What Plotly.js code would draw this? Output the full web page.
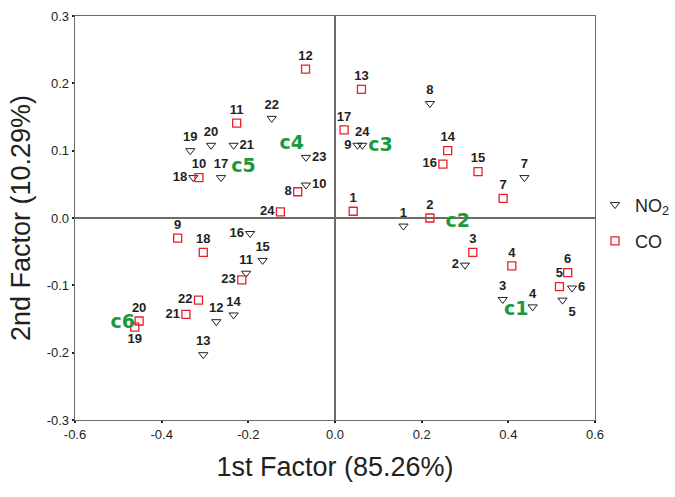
<!DOCTYPE html>
<html><head><meta charset="utf-8">
<script src="https://cdn.plot.ly/plotly-3.0.1.min.js"></script>
<style>body{margin:0;background:#fff}#plot{width:675px;height:497px}</style>
</head><body><div id="plot"></div>
<script>
const no2Labels = ['1','2','3','4','5','6','7','8','9','10','11','12','13','14','15','16','17','18','19','20','21','22','23','24'];
const no2X = [0.158,0.300,0.387,0.456,0.525,0.547,0.437,0.219,0.052,-0.067,-0.205,-0.274,-0.304,-0.234,-0.167,-0.196,-0.263,-0.327,-0.334,-0.286,-0.234,-0.146,-0.067,0.063];
const no2Y = [-0.012,-0.070,-0.121,-0.132,-0.122,-0.104,0.060,0.170,0.108,0.049,-0.082,-0.154,-0.203,-0.144,-0.063,-0.023,0.060,0.060,0.100,0.108,0.108,0.148,0.090,0.108];
const no2TextPos = ['top center','middle left','top center','top center','bottom right','middle right','top center','top center','middle left','middle right','top center','top center','top center','top center','top center','middle left','top center','middle left','top center','top center','middle right','top center','middle right','top center'];

const coLabels = ['1','2','3','4','5','6','7','8','9','10','11','12','13','14','15','16','17','18','19','20','21','22','23','24'];
const coX = [0.042,0.219,0.318,0.408,0.518,0.537,0.388,-0.086,-0.363,-0.314,-0.227,-0.068,0.061,0.260,0.330,0.249,0.021,-0.304,-0.462,-0.452,-0.344,-0.315,-0.215,-0.126];
const coY = [0.010,0.000,-0.051,-0.071,-0.102,-0.081,0.029,0.039,-0.030,0.060,0.141,0.221,0.191,0.100,0.069,0.080,0.131,-0.051,-0.162,-0.153,-0.143,-0.122,-0.092,0.009];
const coTextPos = ['top center','top center','top center','top center','top center','top center','top center','middle left','top center','top center','top center','top center','top center','top center','top center','middle left','top center','top center','bottom center','top center','middle left','middle left','middle left','middle left'];

const clusterLabels = ['c1','c2','c3','c4','c5','c6'];
const clusterX = [0.418,0.283,0.105,-0.100,-0.211,-0.490];
const clusterY = [-0.137,-0.006,0.106,0.109,0.075,-0.157];

const xTicks = [-0.6,-0.4,-0.2,0.0,0.2,0.4,0.6];
const xTickText = ['-0.6','-0.4','-0.2','0.0','0.2','0.4','0.6'];
const yTicks = [-0.3,-0.2,-0.1,0.0,0.1,0.2,0.3];
const yTickText = ['-0.3','-0.2','-0.1','0.0','0.1','0.2','0.3'];

const FONT = 'Liberation Sans, Arial, sans-serif';
const labelFont = {family:FONT, size:13, color:'#231f20', weight:'bold'};

const traces = [
  {x:no2X, y:no2Y, text:no2Labels, mode:'markers+text', type:'scatter', name:'NO<sub>2</sub>', legendgroup:'a',
   textposition:no2TextPos, textfont:labelFont, cliponaxis:false,
   marker:{symbol:'triangle-down-open', size:8, color:'#231f20', line:{width:1}}},
  {x:coX, y:coY, text:coLabels, mode:'markers+text', type:'scatter', name:'CO', legendgroup:'b',
   textposition:coTextPos, textfont:labelFont, cliponaxis:false,
   marker:{symbol:'square-open', size:8, color:'#e8202a', line:{width:1.3}}},
  {x:clusterX, y:clusterY, text:clusterLabels, mode:'text', type:'scatter', showlegend:false,
   textposition:'middle center', cliponaxis:false,
   textfont:{family:'DejaVu Sans, sans-serif', size:19, color:'#1a9a3c', weight:'bold'}}
];

const axisCommon = {showgrid:false, zeroline:true, zerolinecolor:'#6d6a68', zerolinewidth:1.3,
  showline:true, linecolor:'#6d6a68', linewidth:1.3, mirror:true, ticks:'outside', ticklen:2, tickwidth:2,
  tickcolor:'#231f20', tickfont:{family:FONT, size:13, color:'#231f20'}, automargin:false};

const layout = {
  width:675, height:497, margin:{l:75, r:80, t:16, b:77, autoexpand:false},
  paper_bgcolor:'#fff', plot_bgcolor:'#fff', showlegend:true,
  xaxis:Object.assign({}, axisCommon, {range:[-0.6,0.6], tickvals:xTicks, ticktext:xTickText,
    title:{text:'1st Factor (85.26%)', font:{family:FONT, size:27, color:'#231f20'}, standoff:16}}),
  yaxis:Object.assign({}, axisCommon, {range:[-0.3,0.3], tickvals:yTicks, ticktext:yTickText,
    title:{text:'2nd Factor (10.29%)', font:{family:FONT, size:27, color:'#231f20'}, standoff:8}}),
  legend:{x:1.0, y:0.488, xanchor:'left', yanchor:'middle', font:{family:FONT, size:18, color:'#231f20'},
    itemwidth:30, traceorder:'grouped', tracegroupgap:10, bgcolor:'rgba(0,0,0,0)'}
};

Plotly.newPlot('plot', traces, layout, {displayModeBar:false, staticPlot:true});
</script></body></html>
